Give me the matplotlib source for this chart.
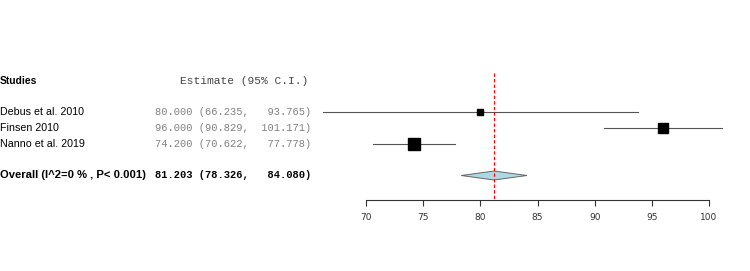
import matplotlib
matplotlib.use("Agg")
import matplotlib.pyplot as plt
from matplotlib.patches import Polygon

# study data
studies = ["Debus et al. 2010", "Finsen 2010", "Nanno et al. 2019"]
est = [80.000, 96.000, 74.200]
lower = [66.235, 90.829, 70.622]
upper = [93.765, 101.171, 77.778]
box_size = [4.5, 7.0, 8.2]  # marker size in points, relative weight

overall_label = "Overall (I^2=0 % , P< 0.001)"
overall = [81.203, 78.326, 84.080]

xticks = [70, 75, 80, 85, 90, 95, 100]

W, H = 750, 271
fig = plt.figure(figsize=(W / 100, H / 100), dpi=100)
ax = fig.add_axes([0, 0, 1, 1])

# map x data units to figure pixels: 70 -> 366 px, 100 -> 709 px
px_per_unit = (709 - 366) / 30.0
ax.set_xlim(70 - 366 / px_per_unit, 70 + (W - 366) / px_per_unit)
ax.set_ylim(H, 0)  # y in pixels from top

row_y = [112 + 15.8 * i for i in range(len(studies))]
head_y = 81
over_y = 175.5
axis_y = 199.5

def fx(px):
    return px / W

tr = ax.get_yaxis_transform()  # x axes fraction, y data
sans = ["Liberation Sans", "DejaVu Sans"]
mono = ["Liberation Mono", "DejaVu Sans Mono"]

ax.text(0, head_y, "Studies", transform=tr, family=sans, fontweight="bold",
        fontsize=7.4, va="center", ha="left")
ax.text(fx(180), head_y, "Estimate (95% C.I.)", transform=tr, family=mono,
        fontsize=8.1, va="center", ha="left", color="#444444")

for i, name in enumerate(studies):
    y = row_y[i]
    ax.text(0, y, name, transform=tr, family=sans, fontsize=7.7, va="center")
    s = "%.3f (%.3f, %8.3f)" % (est[i], lower[i], upper[i])
    ax.text(fx(155), y, s, transform=tr, family=mono, fontsize=7.45,
            va="center", color="#808080")
    ax.plot([lower[i], upper[i]], [y, y], color="#555555", lw=0.8)
    ax.plot(est[i], y, marker="s", ms=box_size[i], color="black", mec="black")

ax.text(0, over_y, overall_label, transform=tr, family=sans, fontweight="bold",
        fontsize=8.1, va="center")
s = "%.3f (%.3f, %8.3f)" % tuple(overall)
ax.text(fx(155), over_y, s, transform=tr, family=mono, fontweight="bold",
        fontsize=7.45, va="center")

dh = 4.5
diamond = Polygon([(overall[1], over_y), (overall[0], over_y - dh),
                   (overall[2], over_y), (overall[0], over_y + dh)],
                  closed=True, facecolor="#ADD8E6", edgecolor="#666666", lw=0.7)
ax.add_patch(diamond)

ax.plot([overall[0], overall[0]], [73, axis_y], color="red", ls=(0, (3, 2)), lw=0.8)

# x axis
for sp in ["top", "left", "right"]:
    ax.spines[sp].set_visible(False)
ax.spines["bottom"].set_position(("data", axis_y))
ax.spines["bottom"].set_bounds(70, 100)
ax.spines["bottom"].set_color("#333333")
ax.spines["bottom"].set_linewidth(0.8)
ax.set_xticks(xticks)
ax.tick_params(axis="x", direction="out", length=4.5, width=0.8, color="#333333",
               labelsize=6.5, pad=5, labelcolor="#333333")
ax.set_yticks([])
ax.patch.set_visible(False)

fig.savefig("out.png", dpi=100)
